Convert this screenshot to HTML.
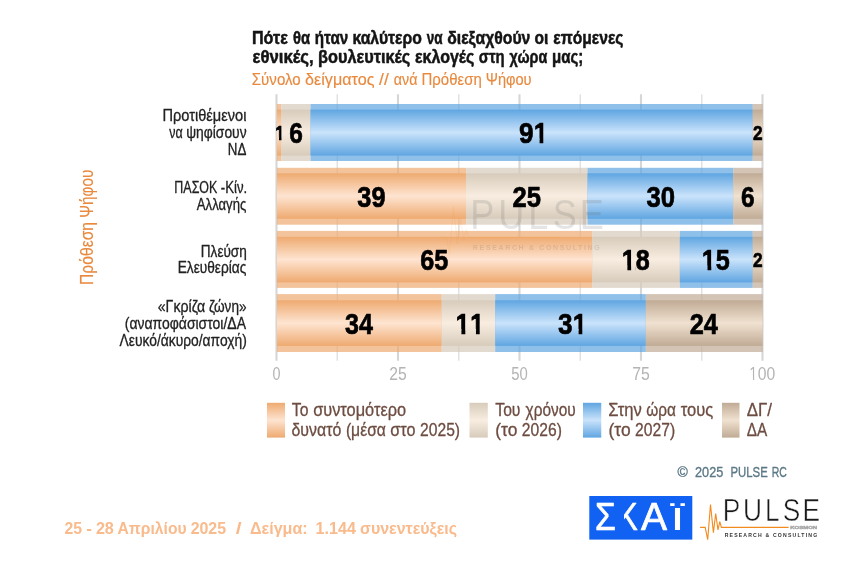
<!DOCTYPE html>
<html lang="el"><head><meta charset="utf-8"><title>Pulse RC</title>
<style>
html,body{margin:0;padding:0;background:#fff;}
body{width:864px;height:564px;overflow:hidden;}
svg{display:block;font-family:'Liberation Sans', sans-serif;}
</style></head><body>
<svg width="864" height="564" viewBox="0 0 864 564">
<defs>
<linearGradient id="go" x1="0" y1="0" x2="0" y2="1"><stop offset="0" stop-color="#EEAA70"/><stop offset="0.5" stop-color="#FEE4D1"/><stop offset="1" stop-color="#EEAA70"/></linearGradient>
<linearGradient id="gb" x1="0" y1="0" x2="0" y2="1"><stop offset="0" stop-color="#D7CBBB"/><stop offset="0.5" stop-color="#F8EDE0"/><stop offset="1" stop-color="#D7CBBB"/></linearGradient>
<linearGradient id="gu" x1="0" y1="0" x2="0" y2="1"><stop offset="0" stop-color="#5FA5E1"/><stop offset="0.5" stop-color="#CAE3FB"/><stop offset="1" stop-color="#5FA5E1"/></linearGradient>
<linearGradient id="gt" x1="0" y1="0" x2="0" y2="1"><stop offset="0" stop-color="#C0AB95"/><stop offset="0.5" stop-color="#F0E1D0"/><stop offset="1" stop-color="#C0AB95"/></linearGradient>
<clipPath id="c0"><path transform="scale(0.01020,-0.01020)" d="M94 1700H779V-300H458V313H94Z"/></clipPath>
<clipPath id="c1"><path transform="scale(0.01464,-0.01464)" d="M0 1700H1139V-300H0ZM1243 1700H1908V-300H1607V303H1243Z"/></clipPath>
<clipPath id="c2"><path transform="scale(0.01464,-0.01464)" d="M104 1700H769V-300H468V303H104ZM1139 1700H2278V-300H1139Z"/></clipPath>
<clipPath id="c3"><path transform="scale(0.01464,-0.01464)" d="M104 1700H769V-300H468V303H104ZM1139 1700H2278V-300H1139Z"/></clipPath>
<clipPath id="c4"><path transform="scale(0.01464,-0.01464)" d="M104 1700H769V-300H468V303H104ZM1243 1700H1908V-300H1607V303H1243Z"/></clipPath>
<clipPath id="c5"><path transform="scale(0.01464,-0.01464)" d="M0 1700H1139V-300H0ZM1243 1700H1908V-300H1607V303H1243Z"/></clipPath>
<clipPath id="c6"><path transform="scale(0.00903,-0.00903)" d="M185 1700H682V-300H529V223H185ZM1139 1700H2278V-300H1139ZM2278 1700H3417V-300H2278Z"/></clipPath>
<clipPath id="kclip"><rect x="624" y="496" width="18" height="44"/></clipPath>
</defs>
<rect width="864" height="564" fill="#fff"/>
<g id="grid">
<line x1="276.50" x2="276.50" y1="94.2" y2="360.8" stroke="#d6d6d6" stroke-width="2.1"/>
<line x1="337.25" x2="337.25" y1="94.2" y2="360.8" stroke="#e0e0e0" stroke-width="1.4"/>
<line x1="398.00" x2="398.00" y1="94.2" y2="360.8" stroke="#d6d6d6" stroke-width="2.1"/>
<line x1="458.75" x2="458.75" y1="94.2" y2="360.8" stroke="#e0e0e0" stroke-width="1.4"/>
<line x1="519.50" x2="519.50" y1="94.2" y2="360.8" stroke="#d6d6d6" stroke-width="2.1"/>
<line x1="580.25" x2="580.25" y1="94.2" y2="360.8" stroke="#e0e0e0" stroke-width="1.4"/>
<line x1="641.00" x2="641.00" y1="94.2" y2="360.8" stroke="#d6d6d6" stroke-width="2.1"/>
<line x1="701.75" x2="701.75" y1="94.2" y2="360.8" stroke="#e0e0e0" stroke-width="1.4"/>
<line x1="762.50" x2="762.50" y1="94.2" y2="360.8" stroke="#d6d6d6" stroke-width="2.1"/>
</g>
<g id="bars">
<rect x="276.90" y="104.00" width="4.46" height="57.00" fill="#EEAA70" fill-opacity="0.7"/>
<rect x="276.90" y="109.60" width="4.46" height="46.00" fill="url(#go)"/>
<rect x="281.36" y="104.00" width="29.16" height="57.00" fill="#D7CBBB" fill-opacity="0.7"/>
<rect x="281.36" y="109.60" width="29.16" height="46.00" fill="url(#gb)"/>
<rect x="310.52" y="104.00" width="442.26" height="57.00" fill="#5FA5E1" fill-opacity="0.7"/>
<rect x="310.52" y="109.60" width="442.26" height="46.00" fill="url(#gu)"/>
<rect x="752.78" y="104.00" width="9.82" height="57.00" fill="#C0AB95" fill-opacity="0.7"/>
<rect x="752.78" y="109.60" width="9.82" height="46.00" fill="url(#gt)"/>
<rect x="276.90" y="167.80" width="189.14" height="56.90" fill="#EEAA70" fill-opacity="0.7"/>
<rect x="276.90" y="173.30" width="189.14" height="45.50" fill="url(#go)"/>
<rect x="466.04" y="167.80" width="121.50" height="56.90" fill="#D7CBBB" fill-opacity="0.7"/>
<rect x="466.04" y="173.30" width="121.50" height="45.50" fill="url(#gb)"/>
<rect x="587.54" y="167.80" width="145.80" height="56.90" fill="#5FA5E1" fill-opacity="0.7"/>
<rect x="587.54" y="173.30" width="145.80" height="45.50" fill="url(#gu)"/>
<rect x="733.34" y="167.80" width="29.26" height="56.90" fill="#C0AB95" fill-opacity="0.7"/>
<rect x="733.34" y="173.30" width="29.26" height="45.50" fill="url(#gt)"/>
<rect x="276.90" y="230.90" width="315.50" height="57.00" fill="#EEAA70" fill-opacity="0.7"/>
<rect x="276.90" y="236.80" width="315.50" height="45.60" fill="url(#go)"/>
<rect x="592.40" y="230.90" width="87.48" height="57.00" fill="#D7CBBB" fill-opacity="0.7"/>
<rect x="592.40" y="236.80" width="87.48" height="45.60" fill="url(#gb)"/>
<rect x="679.88" y="230.90" width="72.90" height="57.00" fill="#5FA5E1" fill-opacity="0.7"/>
<rect x="679.88" y="236.80" width="72.90" height="45.60" fill="url(#gu)"/>
<rect x="752.78" y="230.90" width="9.82" height="57.00" fill="#C0AB95" fill-opacity="0.7"/>
<rect x="752.78" y="236.80" width="9.82" height="45.60" fill="url(#gt)"/>
<rect x="276.90" y="294.10" width="164.84" height="57.90" fill="#EEAA70" fill-opacity="0.7"/>
<rect x="276.90" y="300.30" width="164.84" height="45.60" fill="url(#go)"/>
<rect x="441.74" y="294.10" width="53.46" height="57.90" fill="#D7CBBB" fill-opacity="0.7"/>
<rect x="441.74" y="300.30" width="53.46" height="45.60" fill="url(#gb)"/>
<rect x="495.20" y="294.10" width="150.66" height="57.90" fill="#5FA5E1" fill-opacity="0.7"/>
<rect x="495.20" y="300.30" width="150.66" height="45.60" fill="url(#gu)"/>
<rect x="645.86" y="294.10" width="116.74" height="57.90" fill="#C0AB95" fill-opacity="0.7"/>
<rect x="645.86" y="300.30" width="116.74" height="45.60" fill="url(#gt)"/>
</g>
<g id="watermark" transform="translate(-520.4,-485.6) scale(1.3707)" opacity="0.15">
<path d="M700.1 527.4 H705.2 L707.7 539.6 L710.5 504.6 L713.4 532.6 L715.7 513.6 L718 530 L719.8 521.6 L721.4 527.4 H788.6" fill="none" stroke="#F28A1E" stroke-width="0.9" opacity="0.6"/>
<text transform="translate(0,521.30) scale(0.8297,1)" x="871.17 895.64 922.15 943.52 967.34" font-size="31.70" fill="#555">PULSE</text>
<text transform="translate(724.64,536.90) scale(0.9500,1.0000)" font-size="5.40" font-weight="bold" fill="#555" letter-spacing="1.255">RESEARCH &amp; CONSULTING</text>
</g>
<g id="bar-values" style="font-kerning:none">
<text transform="translate(275.25,139.86) scale(0.8022,1)" clip-path="url(#c0)" font-size="20.88" font-weight="bold" fill="#000" stroke="#000" stroke-width="0.7" stroke-linejoin="round">1</text>
<text transform="translate(289.14,142.99) scale(0.8146,1)" font-size="29.98" font-weight="bold" fill="#000" stroke="#000" stroke-width="0.7" stroke-linejoin="round">6</text>
<text transform="translate(519.05,142.99) scale(0.8746,1)" clip-path="url(#c1)" font-size="29.98" font-weight="bold" fill="#000" stroke="#000" stroke-width="0.7" stroke-linejoin="round">91</text>
<text transform="translate(752.89,139.86) scale(0.8253,1)" font-size="20.88" font-weight="bold" fill="#000" stroke="#000" stroke-width="0.7" stroke-linejoin="round">2</text>
<text transform="translate(357.36,206.74) scale(0.8451,1)" font-size="29.98" font-weight="bold" fill="#000" stroke="#000" stroke-width="0.7" stroke-linejoin="round">39</text>
<text transform="translate(512.45,206.74) scale(0.8548,1)" font-size="29.98" font-weight="bold" fill="#000" stroke="#000" stroke-width="0.7" stroke-linejoin="round">25</text>
<text transform="translate(646.40,206.74) scale(0.8560,1)" font-size="29.98" font-weight="bold" fill="#000" stroke="#000" stroke-width="0.7" stroke-linejoin="round">30</text>
<text transform="translate(741.12,206.74) scale(0.8146,1)" font-size="29.98" font-weight="bold" fill="#000" stroke="#000" stroke-width="0.7" stroke-linejoin="round">6</text>
<text transform="translate(420.32,269.89) scale(0.8408,1)" font-size="29.98" font-weight="bold" fill="#000" stroke="#000" stroke-width="0.7" stroke-linejoin="round">65</text>
<text transform="translate(621.65,269.89) scale(0.8408,1)" clip-path="url(#c2)" font-size="29.98" font-weight="bold" fill="#000" stroke="#000" stroke-width="0.7" stroke-linejoin="round">18</text>
<text transform="translate(701.77,269.89) scale(0.8424,1)" clip-path="url(#c3)" font-size="29.98" font-weight="bold" fill="#000" stroke="#000" stroke-width="0.7" stroke-linejoin="round">15</text>
<text transform="translate(752.89,266.76) scale(0.8253,1)" font-size="20.88" font-weight="bold" fill="#000" stroke="#000" stroke-width="0.7" stroke-linejoin="round">2</text>
<text transform="translate(344.96,333.54) scale(0.8360,1)" font-size="29.98" font-weight="bold" fill="#000" stroke="#000" stroke-width="0.7" stroke-linejoin="round">34</text>
<text transform="translate(455.49,333.54) scale(0.8701,1)" clip-path="url(#c4)" font-size="29.98" font-weight="bold" fill="#000" stroke="#000" stroke-width="0.7" stroke-linejoin="round">11</text>
<text transform="translate(558.11,333.54) scale(0.8725,1)" clip-path="url(#c5)" font-size="29.98" font-weight="bold" fill="#000" stroke="#000" stroke-width="0.7" stroke-linejoin="round">31</text>
<text transform="translate(689.72,333.54) scale(0.8449,1)" font-size="29.98" font-weight="bold" fill="#000" stroke="#000" stroke-width="0.7" stroke-linejoin="round">24</text>
</g>
<g id="title">
<text transform="translate(0,43.50)" font-size="18.16" font-weight="bold" fill="#141414" stroke="#141414" stroke-width="0.5" stroke-linejoin="round"><tspan x="251.91" textLength="35.90" lengthAdjust="spacingAndGlyphs">Πότε</tspan> <tspan x="293.00" textLength="17.09" lengthAdjust="spacingAndGlyphs">θα</tspan> <tspan x="314.74" textLength="33.45" lengthAdjust="spacingAndGlyphs">ήταν</tspan> <tspan x="352.43" textLength="69.52" lengthAdjust="spacingAndGlyphs">καλύτερο</tspan> <tspan x="426.71" textLength="15.87" lengthAdjust="spacingAndGlyphs">να</tspan> <tspan x="447.19" textLength="83.18" lengthAdjust="spacingAndGlyphs">διεξαχθούν</tspan> <tspan x="534.40" textLength="13.86" lengthAdjust="spacingAndGlyphs">οι</tspan> <tspan x="553.27" textLength="70.22" lengthAdjust="spacingAndGlyphs">επόμενες</tspan></text>
<text transform="translate(0,63.40)" font-size="18.16" font-weight="bold" fill="#141414" stroke="#141414" stroke-width="0.5" stroke-linejoin="round"><tspan x="252.45" textLength="61.27" lengthAdjust="spacingAndGlyphs">εθνικές,</tspan> <tspan x="318.10" textLength="92.25" lengthAdjust="spacingAndGlyphs">βουλευτικές</tspan> <tspan x="414.94" textLength="59.45" lengthAdjust="spacingAndGlyphs">εκλογές</tspan> <tspan x="478.83" textLength="25.82" lengthAdjust="spacingAndGlyphs">στη</tspan> <tspan x="509.47" textLength="37.78" lengthAdjust="spacingAndGlyphs">χώρα</tspan> <tspan x="552.06" textLength="31.29" lengthAdjust="spacingAndGlyphs">μας;</tspan></text>
<text transform="translate(0,85.20)" font-size="17.30" fill="#E8893E" stroke="#E8893E" stroke-width="0.15" stroke-linejoin="round"><tspan x="251.81" textLength="48.88" lengthAdjust="spacingAndGlyphs">Σύνολο</tspan> <tspan x="305.09" textLength="69.36" lengthAdjust="spacingAndGlyphs">δείγματος</tspan> <tspan x="379.12" textLength="9.73" lengthAdjust="spacingAndGlyphs">//</tspan> <tspan x="393.75" textLength="23.67" lengthAdjust="spacingAndGlyphs">ανά</tspan> <tspan x="421.51" textLength="60.24" lengthAdjust="spacingAndGlyphs">Πρόθεση</tspan> <tspan x="485.72" textLength="45.90" lengthAdjust="spacingAndGlyphs">Ψήφου</tspan></text>
</g>
<g id="y-labels">
<text transform="translate(0,120.60)" font-size="15.61" fill="#222" stroke="#222" stroke-width="0.3" stroke-linejoin="round"><tspan x="162.44" textLength="84.00" lengthAdjust="spacingAndGlyphs">Προτιθέμενοι</tspan></text>
<text transform="translate(0,137.50)" font-size="15.61" fill="#222" stroke="#222" stroke-width="0.3" stroke-linejoin="round"><tspan x="169.23" textLength="13.46" lengthAdjust="spacingAndGlyphs">να</tspan> <tspan x="186.26" textLength="60.32" lengthAdjust="spacingAndGlyphs">ψηφίσουν</tspan></text>
<text transform="translate(0,154.60)" font-size="15.61" fill="#222" stroke="#222" stroke-width="0.3" stroke-linejoin="round"><tspan x="227.79" textLength="18.55" lengthAdjust="spacingAndGlyphs">ΝΔ</tspan></text>
<text transform="translate(0,193.10)" font-size="15.61" fill="#222" stroke="#222" stroke-width="0.3" stroke-linejoin="round"><tspan x="174.36" textLength="42.92" lengthAdjust="spacingAndGlyphs">ΠΑΣΟΚ</tspan> <tspan x="220.72" textLength="26.48" lengthAdjust="spacingAndGlyphs">-Κίν.</tspan></text>
<text transform="translate(0,209.75)" font-size="15.61" fill="#222" stroke="#222" stroke-width="0.3" stroke-linejoin="round"><tspan x="196.83" textLength="49.48" lengthAdjust="spacingAndGlyphs">Αλλαγής</tspan></text>
<text transform="translate(0,256.60)" font-size="15.61" fill="#222" stroke="#222" stroke-width="0.3" stroke-linejoin="round"><tspan x="200.77" textLength="46.06" lengthAdjust="spacingAndGlyphs">Πλεύση</tspan></text>
<text transform="translate(0,273.10)" font-size="15.61" fill="#222" stroke="#222" stroke-width="0.3" stroke-linejoin="round"><tspan x="177.64" textLength="68.74" lengthAdjust="spacingAndGlyphs">Ελευθερίας</tspan></text>
<text transform="translate(0,312.00)" font-size="15.61" fill="#222" stroke="#222" stroke-width="0.3" stroke-linejoin="round"><tspan x="157.77" textLength="47.32" lengthAdjust="spacingAndGlyphs">«Γκρίζα</tspan> <tspan x="208.91" textLength="37.63" lengthAdjust="spacingAndGlyphs">ζώνη»</tspan></text>
<text transform="translate(0,328.80)" font-size="15.61" fill="#222" stroke="#222" stroke-width="0.3" stroke-linejoin="round"><tspan x="124.74" textLength="121.23" lengthAdjust="spacingAndGlyphs">(αναποφάσιστοι/ΔΑ</tspan></text>
<text transform="translate(0,345.50)" font-size="15.61" fill="#222" stroke="#222" stroke-width="0.3" stroke-linejoin="round"><tspan x="119.52" textLength="127.26" lengthAdjust="spacingAndGlyphs">Λευκό/άκυρο/αποχή)</tspan></text>
<text transform="translate(92.95,283.90) rotate(-90)" font-size="18.14" fill="#E8893E" stroke="#E8893E" stroke-width="0.15" stroke-linejoin="round"><tspan x="-1.23" textLength="63.20" lengthAdjust="spacingAndGlyphs">Πρόθεση</tspan> <tspan x="66.11" textLength="48.03" lengthAdjust="spacingAndGlyphs">Ψήφου</tspan></text>
</g>
<g id="x-axis" style="font-kerning:none">
<text transform="translate(272.60,379.60) scale(0.7775,1)" font-size="18.50" fill="#b4b4b4">0</text>
<text transform="translate(389.31,379.60) scale(0.8480,1)" font-size="18.50" fill="#b4b4b4">25</text>
<text transform="translate(511.32,379.60) scale(0.8044,1)" font-size="18.50" fill="#b4b4b4">50</text>
<text transform="translate(632.23,379.60) scale(0.8554,1)" font-size="18.50" fill="#b4b4b4">75</text>
<text transform="translate(749.02,379.60) scale(0.8506,1)" clip-path="url(#c6)" font-size="18.50" fill="#b4b4b4">100</text>
</g>
<g id="legend">
<rect x="267" y="402.8" width="18.00" height="34.8" fill="url(#go)"/>
<rect x="469.5" y="402.8" width="18.30" height="34.8" fill="url(#gb)"/>
<rect x="583" y="402.8" width="18.25" height="34.8" fill="url(#gu)"/>
<rect x="722" y="402.8" width="17.50" height="34.8" fill="url(#gt)"/>
<text transform="translate(0,416.00)" font-size="18.05" fill="#6d4c41" stroke="#6d4c41" stroke-width="0.3" stroke-linejoin="round"><tspan x="291.81" textLength="16.66" lengthAdjust="spacingAndGlyphs">Το</tspan> <tspan x="313.13" textLength="92.97" lengthAdjust="spacingAndGlyphs">συντομότερο</tspan></text>
<text transform="translate(0,436.20)" font-size="18.05" fill="#6d4c41" stroke="#6d4c41" stroke-width="0.3" stroke-linejoin="round"><tspan x="291.47" textLength="49.85" lengthAdjust="spacingAndGlyphs">δυνατό</tspan> <tspan x="345.89" textLength="40.05" lengthAdjust="spacingAndGlyphs">(μέσα</tspan> <tspan x="390.31" textLength="25.12" lengthAdjust="spacingAndGlyphs">στο</tspan> <tspan x="420.06" textLength="40.00" lengthAdjust="spacingAndGlyphs">2025)</tspan></text>
<text transform="translate(0,416.00)" font-size="18.05" fill="#6d4c41" stroke="#6d4c41" stroke-width="0.3" stroke-linejoin="round"><tspan x="495.31" textLength="25.15" lengthAdjust="spacingAndGlyphs">Του</tspan> <tspan x="525.62" textLength="50.04" lengthAdjust="spacingAndGlyphs">χρόνου</tspan></text>
<text transform="translate(0,436.20)" font-size="18.05" fill="#6d4c41" stroke="#6d4c41" stroke-width="0.3" stroke-linejoin="round"><tspan x="495.30" textLength="22.09" lengthAdjust="spacingAndGlyphs">(το</tspan> <tspan x="521.85" textLength="40.00" lengthAdjust="spacingAndGlyphs">2026)</tspan></text>
<text transform="translate(0,416.00)" font-size="18.05" fill="#6d4c41" stroke="#6d4c41" stroke-width="0.3" stroke-linejoin="round"><tspan x="608.21" textLength="33.58" lengthAdjust="spacingAndGlyphs">Στην</tspan> <tspan x="646.26" textLength="29.72" lengthAdjust="spacingAndGlyphs">ώρα</tspan> <tspan x="680.66" textLength="32.52" lengthAdjust="spacingAndGlyphs">τους</tspan></text>
<text transform="translate(0,436.20)" font-size="18.05" fill="#6d4c41" stroke="#6d4c41" stroke-width="0.3" stroke-linejoin="round"><tspan x="608.55" textLength="22.09" lengthAdjust="spacingAndGlyphs">(το</tspan> <tspan x="635.10" textLength="40.00" lengthAdjust="spacingAndGlyphs">2027)</tspan></text>
<text transform="translate(0,416.00)" font-size="18.05" fill="#6d4c41" stroke="#6d4c41" stroke-width="0.3" stroke-linejoin="round"><tspan x="746.67" textLength="25.34" lengthAdjust="spacingAndGlyphs">ΔΓ/</tspan></text>
<text transform="translate(0,436.20)" font-size="18.05" fill="#6d4c41" stroke="#6d4c41" stroke-width="0.3" stroke-linejoin="round"><tspan x="746.71" textLength="20.49" lengthAdjust="spacingAndGlyphs">ΔΑ</tspan></text>
</g>
<g id="copyright">
<text transform="translate(0,476.60)" font-size="14.79" fill="#5b7886" stroke="#5b7886" stroke-width="0.35" stroke-linejoin="round" xml:space="preserve"><tspan x="677.42" textLength="10.30" lengthAdjust="spacingAndGlyphs">©</tspan>  <tspan x="695.06" textLength="28.26" lengthAdjust="spacingAndGlyphs">2025</tspan>  <tspan x="730.53" textLength="37.25" lengthAdjust="spacingAndGlyphs">PULSE</tspan> <tspan x="771.73" textLength="15.13" lengthAdjust="spacingAndGlyphs">RC</tspan></text>
</g>
<g id="footer">
<text transform="translate(0,533.75)" font-size="16.54" font-weight="bold" fill="#F9BA8C" xml:space="preserve"><tspan x="64.40" textLength="17.59" lengthAdjust="spacingAndGlyphs">25</tspan> <tspan x="86.27" textLength="5.67" lengthAdjust="spacingAndGlyphs">-</tspan> <tspan x="95.89" textLength="17.99" lengthAdjust="spacingAndGlyphs">28</tspan> <tspan x="117.57" textLength="69.00" lengthAdjust="spacingAndGlyphs">Απριλίου</tspan> <tspan x="190.63" textLength="35.49" lengthAdjust="spacingAndGlyphs">2025</tspan>  <tspan x="235.65" textLength="5.83" lengthAdjust="spacingAndGlyphs">/</tspan>  <tspan x="250.01" textLength="57.62" lengthAdjust="spacingAndGlyphs">Δείγμα:</tspan>  <tspan x="315.54" textLength="40.35" lengthAdjust="spacingAndGlyphs">1.144</tspan> <tspan x="359.97" textLength="97.13" lengthAdjust="spacingAndGlyphs">συνεντεύξεις</tspan></text>
</g>
<g id="skai-logo" aria-label="ΣΚΑΪ">
<title>ΣΚΑΪ</title>
<rect x="589.3" y="496" width="103" height="43.6" fill="#1162F3"/>
<text transform="translate(595.04,529.60) scale(0.8891,1.0000)" font-size="37.90" fill="#fff" stroke="#fff" stroke-width="0.7" stroke-linejoin="round">Σ</text>
<g clip-path="url(#kclip)"><text transform="translate(617.95,529.60) scale(0.7771,1.0000)" font-size="37.90" fill="#fff" stroke="#fff" stroke-width="0.7" stroke-linejoin="round">Κ</text></g>
<text transform="translate(641.09,529.60) scale(1.0308,1.0000)" font-size="37.90" fill="#fff" stroke="#fff" stroke-width="0.7" stroke-linejoin="round">Α</text>
<text transform="translate(669.92,529.60) scale(1.4244,0.8221)" font-size="37.90" fill="#fff">Ϊ</text>
</g>
<g id="pulse-logo">
<path d="M700.1 527.4 H705.2 L707.7 539.6 L710.5 504.6 L713.4 532.6 L715.7 513.6 L718 530 L719.8 521.6 L721.4 527.4 H788.6" fill="none" stroke="#F28A1E" stroke-width="1.1"/>
<text transform="translate(0,521.30) scale(0.8297,1)" x="871.17 895.64 922.15 943.52 967.34" font-size="31.70" fill="#1a1a1a" stroke="#fff" stroke-width="0.55">PULSE</text>
<text transform="translate(790.14,529.20) scale(1.3683,1.0000)" font-size="4.40" font-weight="bold" fill="#a6a6a6" stroke="#a6a6a6" stroke-width="0.4" stroke-linejoin="round">KOSMON</text>
<text transform="translate(724.64,536.90) scale(0.9500,1.0000)" font-size="5.40" font-weight="bold" fill="#333" letter-spacing="1.255">RESEARCH &amp; CONSULTING</text>
</g>
</svg>
</body></html>
